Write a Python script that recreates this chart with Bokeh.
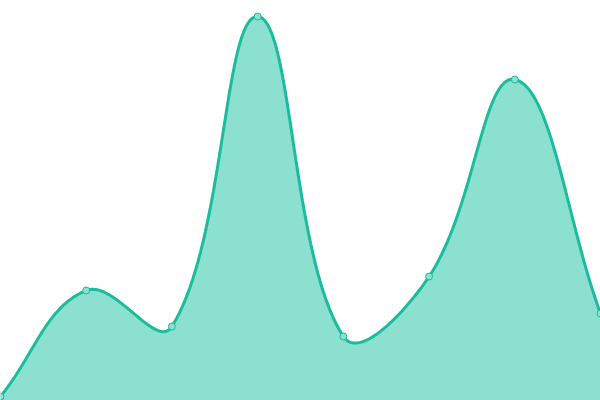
import numpy as np
from bokeh.plotting import figure
from bokeh.models import Range1d
from bokeh.embed import file_html
from bokeh.resources import INLINE

# data
x_idx = [0, 1, 2, 3, 4, 5, 6, 7]
values = [4, 110, 74, 384, 64, 124, 321, 87]

LINE = "#1abc9c"
FILL = "#8be0d0"
W, H = 600, 400
X0, X1 = 0, 7
Y0, Y1 = 0, 400
TENSION = 0.4


def smooth_curve(xs, ys, n=40):
    # control points computed in screen space (like a tension spline), then mapped back
    sxf = W / (X1 - X0)
    syf = H / (Y1 - Y0)
    P = np.column_stack([(np.asarray(xs, float) - X0) * sxf,
                         (np.asarray(ys, float) - Y0) * syf])
    m = len(P)
    cp_prev = np.zeros_like(P)
    cp_next = np.zeros_like(P)
    for i in range(m):
        prev = P[i - 1] if i > 0 else P[i]
        nxt = P[i + 1] if i < m - 1 else P[i]
        d01 = np.hypot(*(P[i] - prev))
        d12 = np.hypot(*(nxt - P[i]))
        s01 = d01 / (d01 + d12) if d01 + d12 else 0
        s12 = d12 / (d01 + d12) if d01 + d12 else 0
        fa = TENSION * s01
        fb = TENSION * s12
        cp_prev[i] = P[i] - fa * (nxt - prev)
        cp_next[i] = P[i] + fb * (nxt - prev)
    out = []
    for i in range(m - 1):
        t = np.linspace(0, 1, n, endpoint=(i == m - 2))[:, None]
        a, b, c, d = P[i], cp_next[i], cp_prev[i + 1], P[i + 1]
        pts = ((1 - t) ** 3) * a + 3 * ((1 - t) ** 2) * t * b + 3 * (1 - t) * t ** 2 * c + t ** 3 * d
        out.append(pts)
    out = np.vstack(out)
    return out[:, 0] / sxf + X0, out[:, 1] / syf + Y0


cx, cy = smooth_curve(x_idx, values)

p = figure(width=W, height=H, output_backend="svg", toolbar_location=None,
           x_range=Range1d(X0, X1), y_range=Range1d(Y0, Y1), min_border=0)
p.axis.visible = False
p.grid.visible = False
p.outline_line_color = None
p.background_fill_color = "white"

p.patch(np.concatenate([[cx[0]], cx, [cx[-1]]]),
        np.concatenate([[Y0], cy, [Y0]]),
        fill_color=FILL, line_color=None)
p.line(cx, cy, line_color=LINE, line_width=3)
p.scatter(x_idx, values, size=7, fill_color=FILL, line_color=LINE, line_width=1)

html = file_html(p, INLINE)
html = html.replace("<body>", "<body style=\"margin:0;padding:0;overflow:hidden\">", 1)
open("out.html", "w").write(html)
